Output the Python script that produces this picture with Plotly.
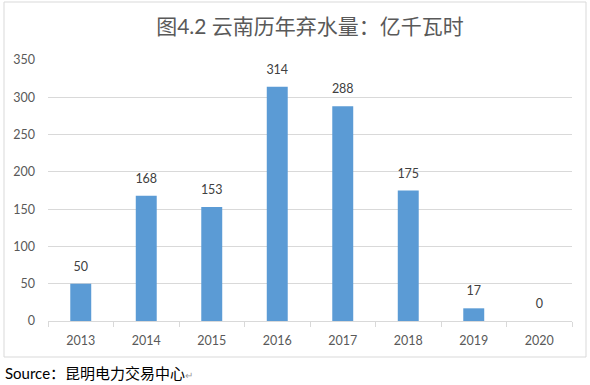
import plotly.graph_objects as go

years = ["2013", "2014", "2015", "2016", "2017", "2018", "2019", "2020"]
values = [50, 168, 153, 314, 288, 175, 17, 0]
title_text = "图4.2 云南历年弃水量：亿千瓦时"
source_text = "Source：昆明电力交易中心"

FONT = "Lato, 'Noto Sans CJK SC', sans-serif"
W, H = 590, 385
L, R, T, B = 48, 18, 60, 64
pw, ph = W - L - R, H - T - B

def px_x(px):
    return (px - L) / pw

def px_y(py):
    return (H - B - py) / ph

fig = go.Figure()
fig.add_trace(go.Bar(
    x=years, y=values,
    marker=dict(color="#5B9BD5", line=dict(width=0)),
    width=0.32,
))
fig.add_trace(go.Scatter(
    x=years, y=values, mode="markers+text",
    marker=dict(size=14, color="rgba(0,0,0,0)"),
    text=[str(v) for v in values], textposition="top center",
    textfont=dict(size=12.5, color="#404040", family=FONT),
    hoverinfo="skip", cliponaxis=False,
))

fig.update_layout(
    width=W, height=H,
    margin=dict(l=L, r=R, t=T, b=B),
    paper_bgcolor="white", plot_bgcolor="white",
    showlegend=False,
    font=dict(family=FONT, color="#595959", size=12),
    title=dict(text=title_text, x=0.5, xref="paper", xanchor="center",
               y=1 - 27 / H, yanchor="middle",
               font=dict(size=21, color="#595959", family=FONT)),
    xaxis=dict(type="category", showgrid=False, showline=True,
               range=[-0.5, len(years) - 0.5],
               linecolor="#D9D9D9", linewidth=1,
               ticks="outside", tickson="boundaries", ticklen=5,
               ticklabelstandoff=8,
               tickcolor="#D9D9D9", tickfont=dict(size=12.5, color="#595959")),
    yaxis=dict(range=[0, 350], dtick=50, showgrid=True, gridcolor="#D9D9D9",
               gridwidth=1, zeroline=False, showline=False, ticks="",
               ticklabelstandoff=12,
               tickfont=dict(size=12.5, color="#595959")),
    shapes=[dict(type="rect", xref="paper", yref="paper",
                 x0=px_x(4), x1=px_x(586), y0=px_y(357), y1=px_y(2),
                 line=dict(color="#D9D9D9", width=1), fillcolor="rgba(0,0,0,0)",
                 layer="below")],
    annotations=[dict(text=source_text + "<span style='color:#A0A0A0;font-size:10px'>↵</span>",
                      xref="paper", yref="paper",
                      x=px_x(3), y=px_y(373), xanchor="left", yanchor="middle",
                      showarrow=False,
                      font=dict(size=15, color="#000000", family=FONT))],
)

fig.write_html("out.html", config={"displayModeBar": False},
               post_script="document.body.style.margin='0';document.body.style.overflow='hidden';")
